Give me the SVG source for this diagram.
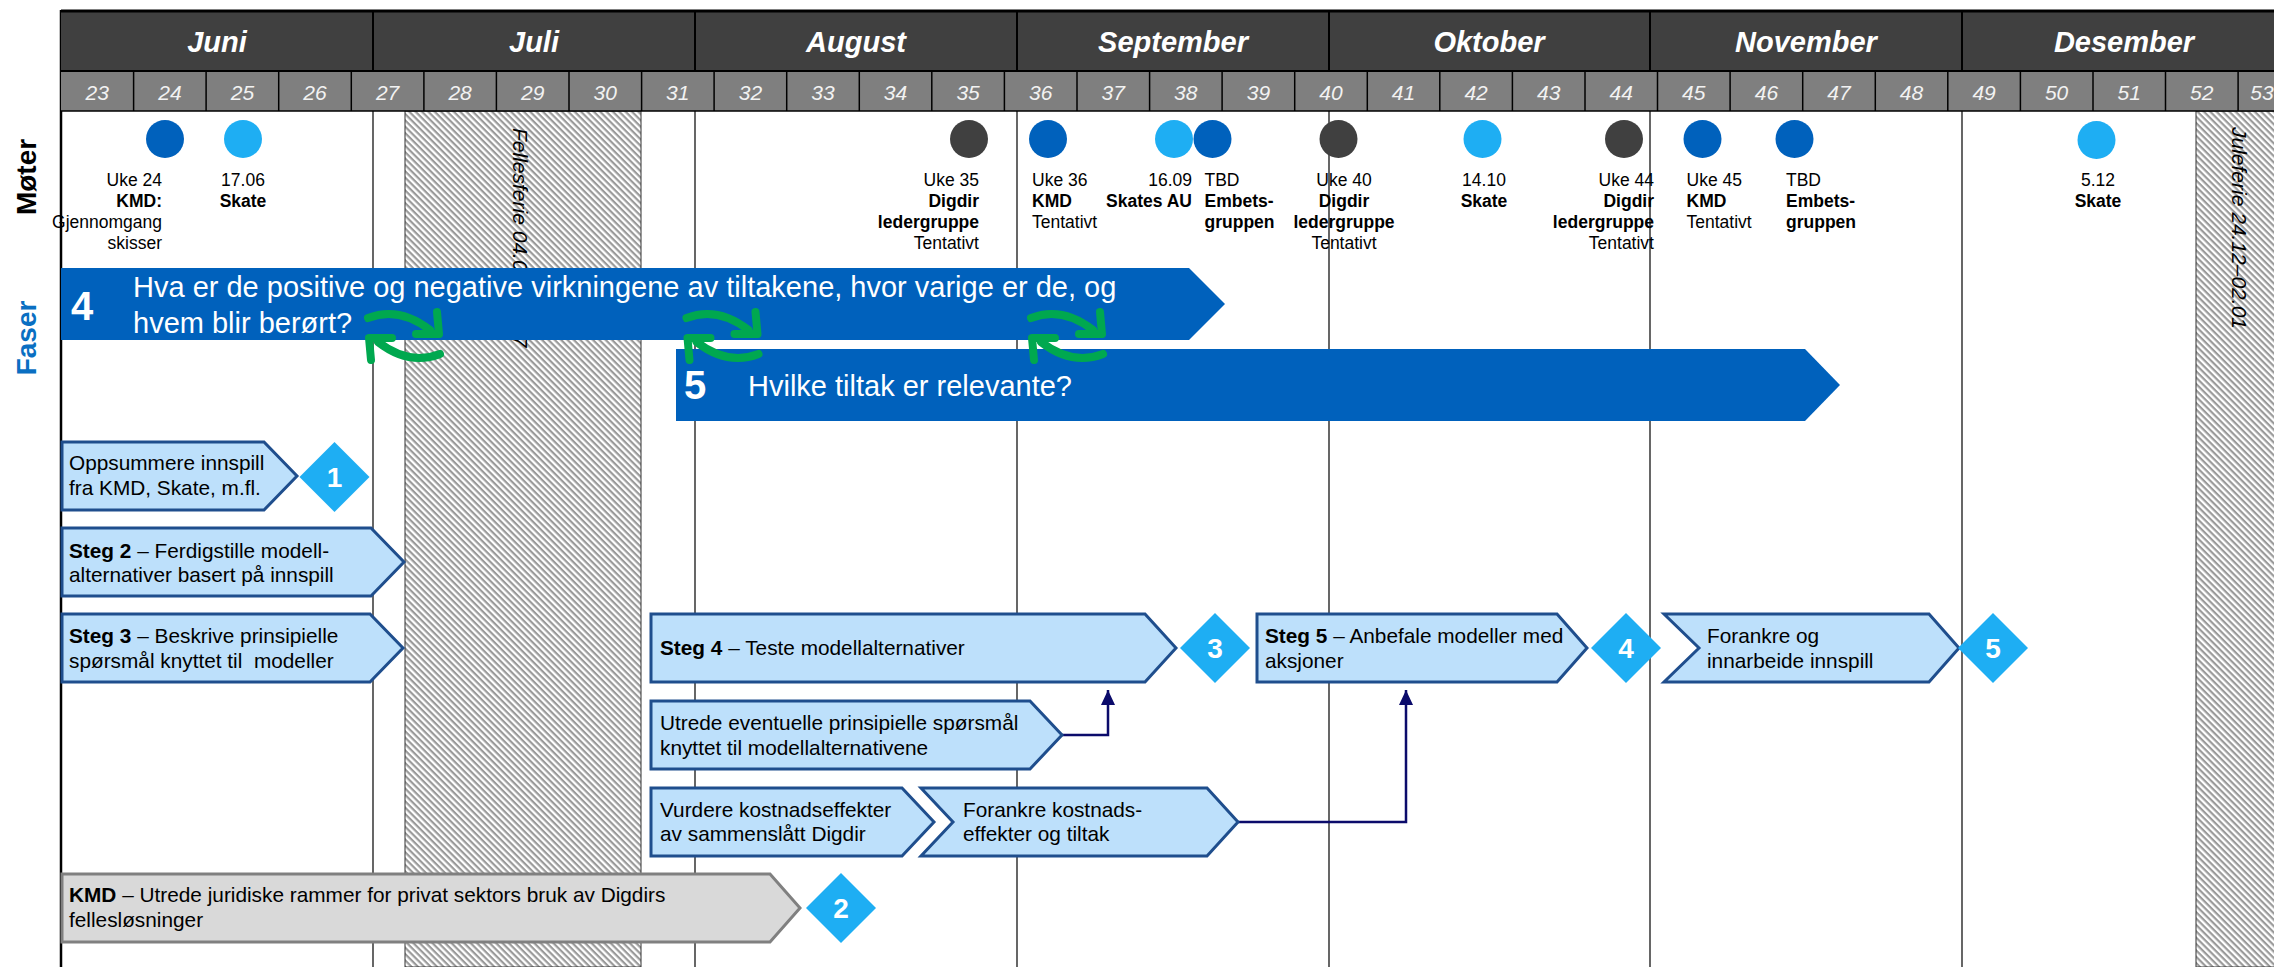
<svg xmlns="http://www.w3.org/2000/svg" width="2274" height="967" viewBox="0 0 2274 967">
<defs>
<pattern id="hatch" patternUnits="userSpaceOnUse" width="4.5" height="4.5" patternTransform="rotate(45)">
<rect width="4.5" height="4.5" fill="#fff"/>
<line x1="0" y1="1.1" x2="4.5" y2="1.1" stroke="#9a9a9a" stroke-width="2.2"/>
</pattern>
<marker id="arrUp" markerUnits="userSpaceOnUse" markerWidth="16" markerHeight="14" refX="15" refY="7" orient="auto">
<path d="M0,0 L15,7 L0,14 z" fill="#0b0b6b"/>
</marker>
<g id="cycle" fill="none" stroke="#00a84f" stroke-width="8" stroke-linecap="round" stroke-linejoin="round">
<path d="M-36,-18 Q-5,-30 26,-6"/>
<path d="M33,-24 L35,-2 L12,-2"/>
<path d="M36,18 Q5,30 -26,6"/>
<path d="M-33,24 L-35,2 L-12,2"/>
</g>
</defs>
<style>
text{font-family:"Liberation Sans",Arial,sans-serif}
.mon{font-size:29px;font-weight:bold;font-style:italic;fill:#fff;text-anchor:middle}
.wk{font-size:21px;font-style:italic;fill:#f2f2f2;text-anchor:middle}
.mt{font-size:17.5px;fill:#000}
.b{font-weight:bold}
.e{text-anchor:end}
.m{text-anchor:middle}
.step{fill:#bde0fb;stroke:#1f4e8d;stroke-width:3}
.gstep{fill:#d9d9d9;stroke:#808080;stroke-width:3}
.st{font-size:20.8px;fill:#000}
.dia{fill:#1eaef3}
.dn{font-size:28px;font-weight:bold;fill:#fff;text-anchor:middle}
.conn{fill:none;stroke:#0b0b6b;stroke-width:2.5}
.vl{stroke:#000;stroke-width:1.2}
.hl{stroke:#000;stroke-width:1.5}
.phase{fill:#0061bc}
.pt{font-size:29px;fill:#fff}
.pn{font-size:40px;font-weight:bold;fill:#fff}
.dk{fill:#404040}
.bl{fill:#0061bc}
.lb{fill:#1eaef3}
.vac{font-size:21px;font-style:italic;fill:#000}
</style>
<rect width="2274" height="967" fill="#fff"/>

<g id="background">
<rect x="405" y="111" width="236" height="856" fill="url(#hatch)" stroke="#333" stroke-width="1"/>
<rect x="2196" y="111" width="80" height="856" fill="url(#hatch)" stroke="#333" stroke-width="1"/>
<text class="vac" transform="translate(513,128) rotate(90)">Fellesferie 04.07–26.07</text>
<text class="vac" transform="translate(2232,127) rotate(90)">Juleferie 24.12–02.01</text>
<g class="vl">
<line x1="373" y1="111" x2="373" y2="967"/>
<line x1="695" y1="111" x2="695" y2="967"/>
<line x1="1017" y1="111" x2="1017" y2="967"/>
<line x1="1329" y1="111" x2="1329" y2="967"/>
<line x1="1650" y1="111" x2="1650" y2="967"/>
<line x1="1962" y1="111" x2="1962" y2="967"/>
</g>
<line x1="61" y1="10" x2="61" y2="967" stroke="#000" stroke-width="2.5"/>
</g>

<g id="header">
<rect x="61" y="11" width="2213" height="60" fill="#404040"/>
<rect x="61" y="71" width="2213" height="40" fill="#7f7f7f"/>
<line x1="61" y1="11" x2="2274" y2="11" stroke="#000" stroke-width="3"/>
<line x1="61" y1="71" x2="2274" y2="71" stroke="#000" stroke-width="2"/>
<line x1="61" y1="111" x2="2274" y2="111" stroke="#000" stroke-width="1.5"/>
<g stroke="#000" stroke-width="2">
<line x1="373" y1="11" x2="373" y2="71"/><line x1="695" y1="11" x2="695" y2="71"/><line x1="1017" y1="11" x2="1017" y2="71"/><line x1="1329" y1="11" x2="1329" y2="71"/><line x1="1650" y1="11" x2="1650" y2="71"/><line x1="1962" y1="11" x2="1962" y2="71"/>
</g>
<g class="hl">
<line x1="133.6" y1="71" x2="133.6" y2="111"/><line x1="206.1" y1="71" x2="206.1" y2="111"/><line x1="278.7" y1="71" x2="278.7" y2="111"/><line x1="351.3" y1="71" x2="351.3" y2="111"/><line x1="423.9" y1="71" x2="423.9" y2="111"/><line x1="496.4" y1="71" x2="496.4" y2="111"/><line x1="569" y1="71" x2="569" y2="111"/><line x1="641.6" y1="71" x2="641.6" y2="111"/><line x1="714.1" y1="71" x2="714.1" y2="111"/><line x1="786.7" y1="71" x2="786.7" y2="111"/><line x1="859.3" y1="71" x2="859.3" y2="111"/><line x1="931.8" y1="71" x2="931.8" y2="111"/><line x1="1004.4" y1="71" x2="1004.4" y2="111"/><line x1="1077" y1="71" x2="1077" y2="111"/><line x1="1149.6" y1="71" x2="1149.6" y2="111"/><line x1="1222.1" y1="71" x2="1222.1" y2="111"/><line x1="1294.7" y1="71" x2="1294.7" y2="111"/><line x1="1367.3" y1="71" x2="1367.3" y2="111"/><line x1="1439.8" y1="71" x2="1439.8" y2="111"/><line x1="1512.4" y1="71" x2="1512.4" y2="111"/><line x1="1585" y1="71" x2="1585" y2="111"/><line x1="1657.5" y1="71" x2="1657.5" y2="111"/><line x1="1730.1" y1="71" x2="1730.1" y2="111"/><line x1="1802.7" y1="71" x2="1802.7" y2="111"/><line x1="1875.3" y1="71" x2="1875.3" y2="111"/><line x1="1947.8" y1="71" x2="1947.8" y2="111"/><line x1="2020.4" y1="71" x2="2020.4" y2="111"/><line x1="2093" y1="71" x2="2093" y2="111"/><line x1="2165.5" y1="71" x2="2165.5" y2="111"/><line x1="2238.1" y1="71" x2="2238.1" y2="111"/>
</g>
<text class="mon" x="217" y="52">Juni</text>
<text class="mon" x="534" y="52">Juli</text>
<text class="mon" x="856" y="52">August</text>
<text class="mon" x="1173" y="52">September</text>
<text class="mon" x="1489" y="52">Oktober</text>
<text class="mon" x="1806" y="52">November</text>
<text class="mon" x="2124" y="52">Desember</text>
<g class="wk">
<text x="97.3" y="100">23</text><text x="169.9" y="100">24</text><text x="242.4" y="100">25</text><text x="315" y="100">26</text><text x="387.6" y="100">27</text><text x="460.1" y="100">28</text><text x="532.7" y="100">29</text><text x="605.3" y="100">30</text><text x="677.8" y="100">31</text><text x="750.4" y="100">32</text><text x="823" y="100">33</text><text x="895.5" y="100">34</text><text x="968.1" y="100">35</text><text x="1040.7" y="100">36</text><text x="1113.3" y="100">37</text><text x="1185.8" y="100">38</text><text x="1258.4" y="100">39</text><text x="1331" y="100">40</text><text x="1403.5" y="100">41</text><text x="1476.1" y="100">42</text><text x="1548.7" y="100">43</text><text x="1621.2" y="100">44</text><text x="1693.8" y="100">45</text><text x="1766.4" y="100">46</text><text x="1838.9" y="100">47</text><text x="1911.5" y="100">48</text><text x="1984.1" y="100">49</text><text x="2056.6" y="100">50</text><text x="2129.2" y="100">51</text><text x="2201.8" y="100">52</text><text x="2262" y="100">53</text>
</g>
</g>

<g id="row-labels">
<text transform="translate(36,177) rotate(-90)" font-size="28" font-weight="bold" fill="#000" text-anchor="middle">Møter</text>
<text transform="translate(36,338) rotate(-90)" font-size="28" font-weight="bold" fill="#0a6fc2" text-anchor="middle">Faser</text>
</g>

<g id="meetings">
<g id="m-uke24"><circle class="bl" cx="165" cy="139" r="19"/>
<text class="mt e" x="162" y="186">Uke 24</text><text class="mt e b" x="162" y="207">KMD:</text><text class="mt e" x="162" y="228">Gjennomgang</text><text class="mt e" x="162" y="249">skisser</text></g>
<g id="m-1706"><circle class="lb" cx="243" cy="139" r="19"/>
<text class="mt m" x="243" y="186">17.06</text><text class="mt m b" x="243" y="207">Skate</text></g>
<g id="m-uke35"><circle class="dk" cx="969" cy="139" r="19"/>
<text class="mt e" x="979" y="186">Uke 35</text><text class="mt e b" x="979" y="207">Digdir</text><text class="mt e b" x="979" y="228">ledergruppe</text><text class="mt e" x="979" y="249">Tentativt</text></g>
<g id="m-uke36"><circle class="bl" cx="1048" cy="139" r="19"/>
<text class="mt" x="1032" y="186">Uke 36</text><text class="mt b" x="1032" y="207">KMD</text><text class="mt" x="1032" y="228">Tentativt</text></g>
<g id="m-1609"><circle class="lb" cx="1174" cy="139" r="19"/>
<text class="mt e" x="1192" y="186">16.09</text><text class="mt e b" x="1192" y="207">Skates AU</text></g>
<g id="m-tbd1"><circle class="bl" cx="1212.5" cy="139" r="19"/>
<text class="mt" x="1204.5" y="186">TBD</text><text class="mt b" x="1204.5" y="207">Embets-</text><text class="mt b" x="1204.5" y="228">gruppen</text></g>
<g id="m-uke40"><circle class="dk" cx="1338.5" cy="139" r="19"/>
<text class="mt m" x="1344" y="186">Uke 40</text><text class="mt m b" x="1344" y="207">Digdir</text><text class="mt m b" x="1344" y="228">ledergruppe</text><text class="mt m" x="1344" y="249">Tentativt</text></g>
<g id="m-1410"><circle class="lb" cx="1482.5" cy="139" r="19"/>
<text class="mt m" x="1484" y="186">14.10</text><text class="mt m b" x="1484" y="207">Skate</text></g>
<g id="m-uke44"><circle class="dk" cx="1624" cy="139" r="19"/>
<text class="mt e" x="1654" y="186">Uke 44</text><text class="mt e b" x="1654" y="207">Digdir</text><text class="mt e b" x="1654" y="228">ledergruppe</text><text class="mt e" x="1654" y="249">Tentativt</text></g>
<g id="m-uke45"><circle class="bl" cx="1702.5" cy="139" r="19"/>
<text class="mt" x="1686.5" y="186">Uke 45</text><text class="mt b" x="1686.5" y="207">KMD</text><text class="mt" x="1686.5" y="228">Tentativt</text></g>
<g id="m-tbd2"><circle class="bl" cx="1794.5" cy="139" r="19"/>
<text class="mt" x="1786" y="186">TBD</text><text class="mt b" x="1786" y="207">Embets-</text><text class="mt b" x="1786" y="228">gruppen</text></g>
<g id="m-0512"><circle class="lb" cx="2096.5" cy="140" r="19"/>
<text class="mt m" x="2098" y="186">5.12</text><text class="mt m b" x="2098" y="207">Skate</text></g>
</g>

<g id="phase4">
<polygon class="phase" points="61,268 1189,268 1225,304 1189,340 61,340"/>
<text class="pn" x="71" y="320">4</text>
<text class="pt" x="133" y="297">Hva er de positive og negative virkningene av tiltakene, hvor varige er de, og</text>
<text class="pt" x="133" y="333">hvem blir berørt?</text>
</g>
<g id="phase5">
<polygon class="phase" points="676,349 1805,349 1840,385 1805,421 676,421"/>
<text class="pn" x="684" y="399">5</text>
<text class="pt" x="748" y="396">Hvilke tiltak er relevante?</text>
</g>
<g id="cycles">
<use href="#cycle" x="404" y="336"/>
<use href="#cycle" x="722.5" y="336"/>
<use href="#cycle" x="1067" y="336"/>
</g>

<g id="connectors">
<path class="conn" d="M1062,735 H1108 V690" marker-end="url(#arrUp)"/>
<path class="conn" d="M1238,822 H1406 V690" marker-end="url(#arrUp)"/>
</g>

<g id="step-oppsummere">
<polygon class="step" points="62,442 264,442 297,476 264,510 62,510"/>
<text class="st" x="69" y="470">Oppsummere innspill</text>
<text class="st" x="69" y="495">fra KMD, Skate, m.fl.</text>
</g>
<g id="milestone-1"><polygon class="dia" points="334.5,442 369.5,477 334.5,512 299.5,477"/><text class="dn" x="334.5" y="487">1</text></g>

<g id="step-2">
<polygon class="step" points="62,528 371,528 404,562 371,596 62,596"/>
<text class="st" x="69" y="557.5"><tspan class="b">Steg 2</tspan> – Ferdigstille modell-</text>
<text class="st" x="69" y="582">alternativer basert på innspill</text>
</g>
<g id="step-3">
<polygon class="step" points="62,614 370,614 403,648 370,682 62,682"/>
<text class="st" x="69" y="643"><tspan class="b">Steg 3</tspan> – Beskrive prinsipielle</text>
<text class="st" x="69" y="668" xml:space="preserve">spørsmål knyttet til  modeller</text>
</g>
<g id="step-4">
<polygon class="step" points="651,614 1145,614 1176,648 1145,682 651,682"/>
<text class="st" x="660" y="655"><tspan class="b">Steg 4</tspan> – Teste modellalternativer</text>
</g>
<g id="milestone-3"><polygon class="dia" points="1215,613 1250,648 1215,683 1180,648"/><text class="dn" x="1215" y="658">3</text></g>
<g id="step-5">
<polygon class="step" points="1257,614 1557,614 1587,648 1557,682 1257,682"/>
<text class="st" x="1265" y="643"><tspan class="b">Steg 5</tspan> – Anbefale modeller med</text>
<text class="st" x="1265" y="668">aksjoner</text>
</g>
<g id="milestone-4"><polygon class="dia" points="1626,613 1661,648 1626,683 1591,648"/><text class="dn" x="1626" y="658">4</text></g>
<g id="step-forankre">
<polygon class="step" points="1664,614 1929,614 1959,648 1929,682 1664,682 1699,648"/>
<text class="st" x="1707" y="643">Forankre og</text>
<text class="st" x="1707" y="668">innarbeide innspill</text>
</g>
<g id="milestone-5"><polygon class="dia" points="1993,613 2028,648 1993,683 1958,648"/><text class="dn" x="1993" y="658">5</text></g>
<g id="step-utrede">
<polygon class="step" points="651,701 1030,701 1062,735 1030,769 651,769"/>
<text class="st" x="660" y="730">Utrede eventuelle prinsipielle spørsmål</text>
<text class="st" x="660" y="755">knyttet til modellalternativene</text>
</g>
<g id="step-vurdere">
<polygon class="step" points="651,788 902,788 934,822 902,856 651,856"/>
<text class="st" x="660" y="816.5">Vurdere kostnadseffekter</text>
<text class="st" x="660" y="841">av sammenslått Digdir</text>
</g>
<g id="step-forankre-kost">
<polygon class="step" points="921,788 1207,788 1238,822 1207,856 921,856 953,822"/>
<text class="st" x="963" y="816.5">Forankre kostnads-</text>
<text class="st" x="963" y="841">effekter og tiltak</text>
</g>
<g id="step-kmd">
<polygon class="gstep" points="62,874 770,874 800,908 770,942 62,942"/>
<text class="st" x="69" y="902"><tspan class="b">KMD</tspan> – Utrede juridiske rammer for privat sektors bruk av Digdirs</text>
<text class="st" x="69" y="927">fellesløsninger</text>
</g>
<g id="milestone-2"><polygon class="dia" points="841,873 876,908 841,943 806,908"/><text class="dn" x="841" y="918">2</text></g>
</svg>
